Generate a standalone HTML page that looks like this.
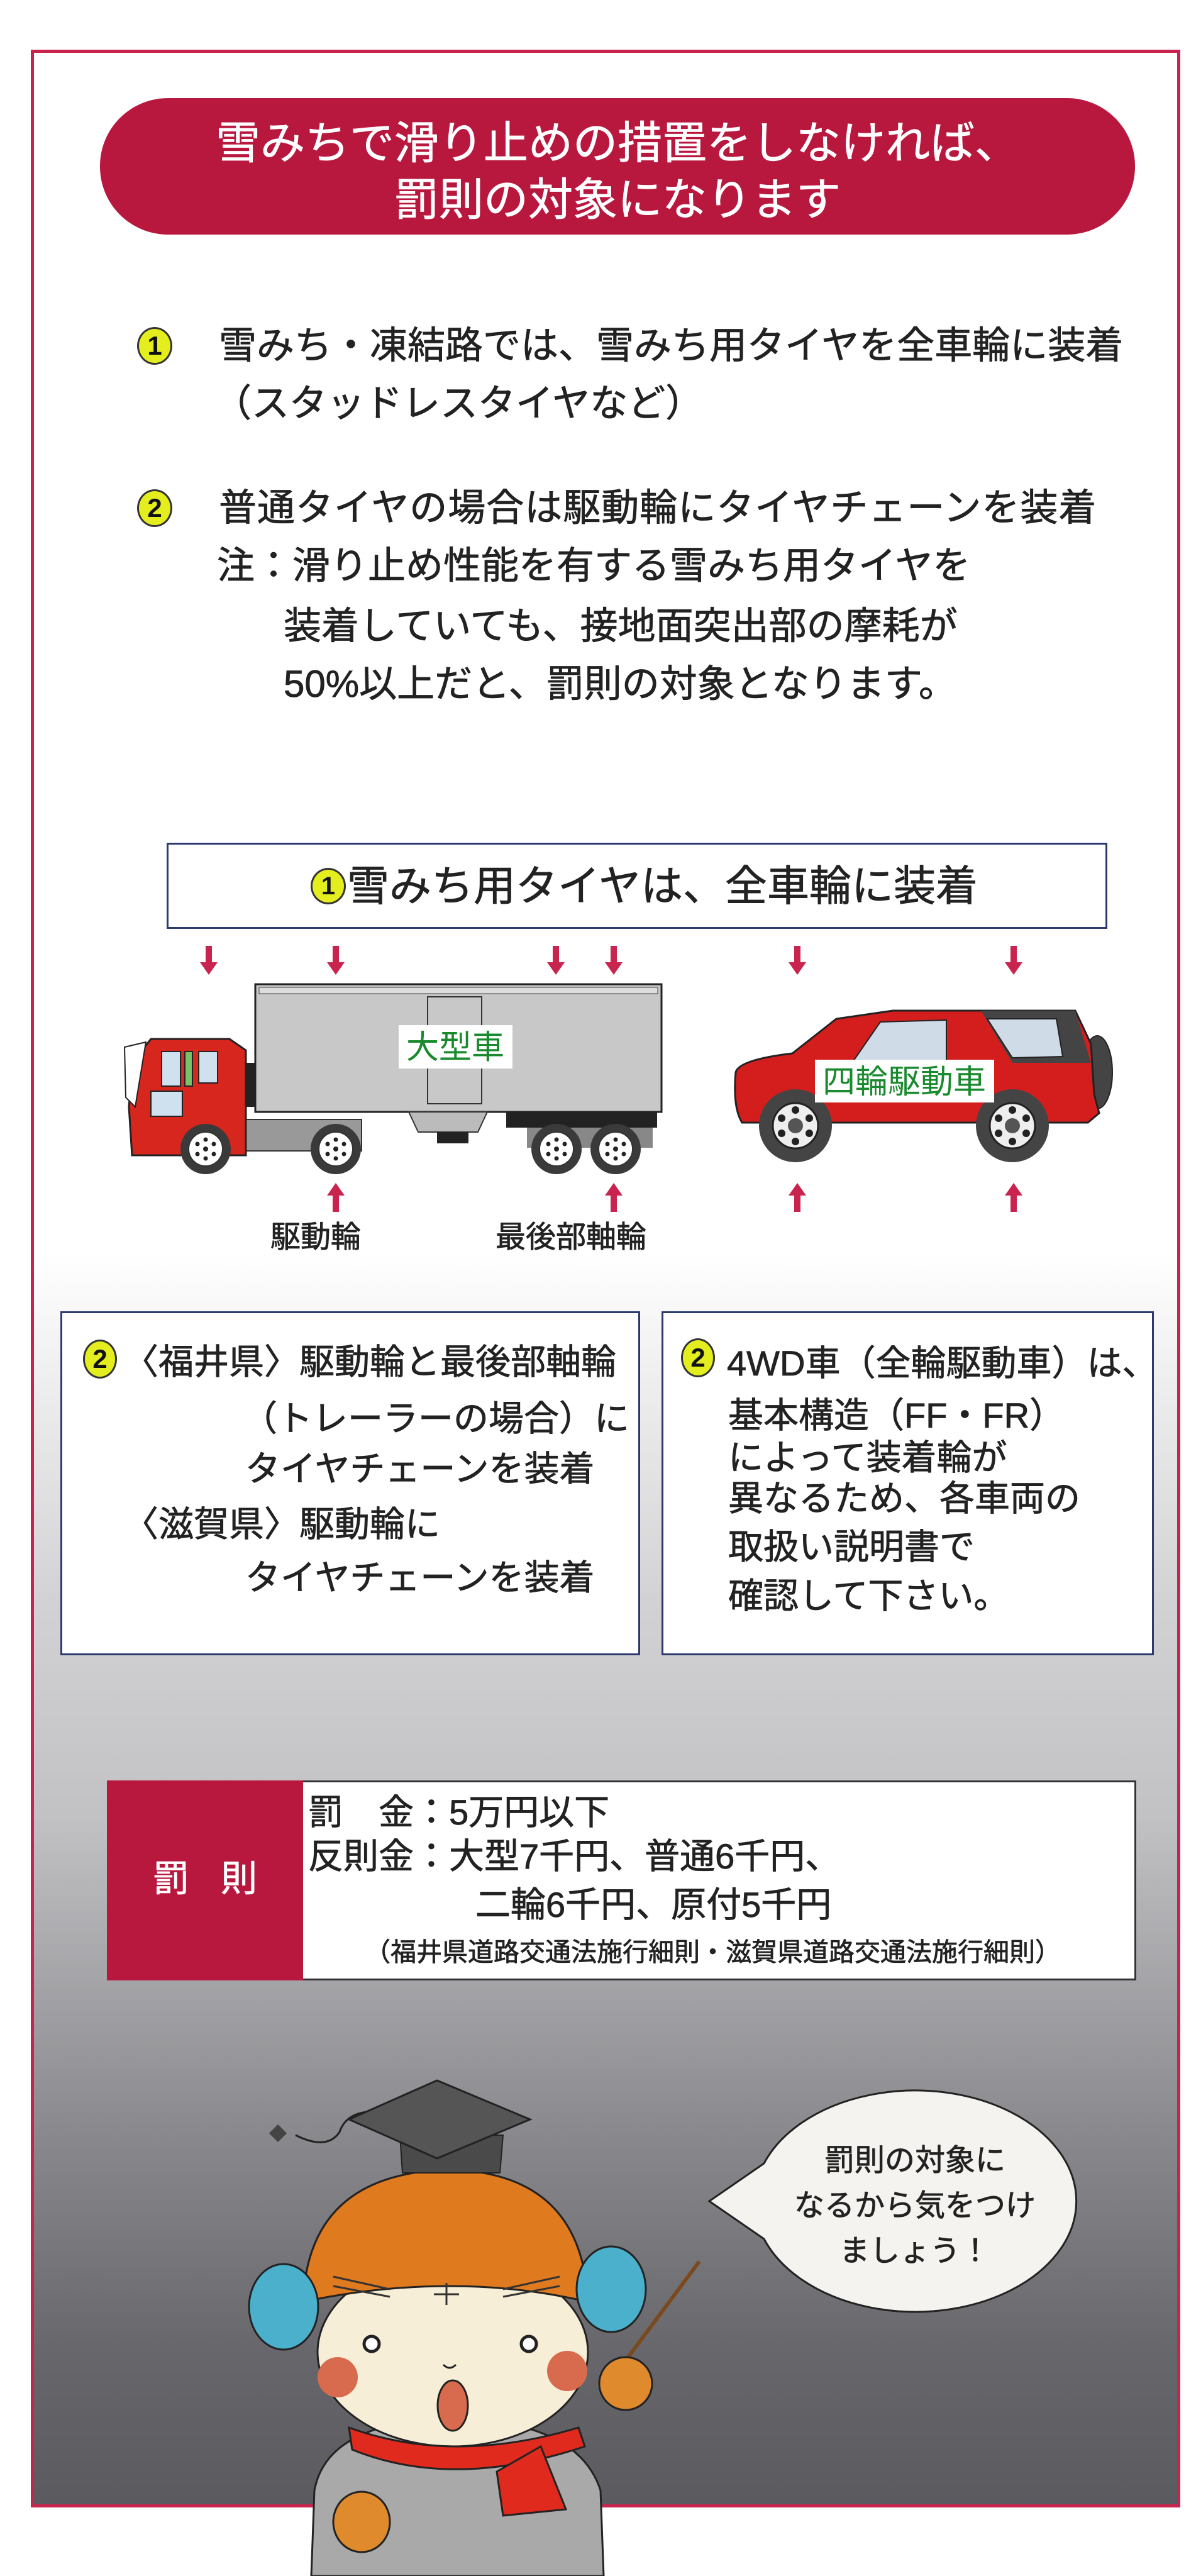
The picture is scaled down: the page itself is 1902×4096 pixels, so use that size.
<!DOCTYPE html>
<html><head><meta charset="utf-8">
<style>
*{margin:0;padding:0;box-sizing:border-box}
body{width:1902px;height:4096px;position:relative;background:#fff;overflow:hidden;font-family:"Liberation Sans","Noto Sans CJK JP",sans-serif;color:#222}
.a{position:absolute;white-space:nowrap}
.t{-webkit-text-stroke:0.8px #222}
.num{position:absolute;border-radius:50%;background:#e4ee1e;border:3px solid #333;font-weight:bold;text-align:center;color:#111;font-family:"Liberation Sans",sans-serif}
.box{position:absolute;background:#fff;border:3px solid #2c3a6e}
</style></head><body>
<div class="a" style="left:52px;top:1990px;width:1822px;height:1994px;background:linear-gradient(#fff 0%,#d2d2d4 28%,#c2c2c5 45%,#8a8a8e 70%,#66666b 88%,#5a5a5f 100%)"></div>
<div class="a" style="left:49px;top:79px;width:1828px;height:3908px;border:5px solid #c8244e"></div>

<div class="a" style="left:159px;top:156px;width:1646px;height:217px;background:#b8173e;border-radius:108px/108px"></div>
<div class="a" style="left:159px;top:184px;width:1646px;text-align:center;color:#fff;font-size:71px;line-height:90px;-webkit-text-stroke:0.8px #fff">雪みちで滑り止めの措置をしなければ、<br>罰則の対象になります</div>

<div class="num" style="left:218px;top:520px;width:56px;height:60px;font-size:42px;line-height:54px">1</div>
<div class="a t" style="left:348px;top:515px;font-size:60px;line-height:70px">雪みち・凍結路では、雪みち用タイヤを全車輪に装着</div>
<div class="a t" style="left:340px;top:607px;font-size:60px;line-height:70px">（スタッドレスタイヤなど）</div>
<div class="num" style="left:218px;top:778px;width:56px;height:60px;font-size:42px;line-height:54px">2</div>
<div class="a t" style="left:348px;top:773px;font-size:60px;line-height:70px;letter-spacing:1px">普通タイヤの場合は駆動輪にタイヤチェーンを装着</div>
<div class="a t" style="left:345px;top:865px;font-size:60px;line-height:70px">注：滑り止め性能を有する雪みち用タイヤを</div>
<div class="a t" style="left:451px;top:961px;font-size:60px;line-height:70px">装着していても、接地面突出部の摩耗が</div>
<div class="a t" style="left:451px;top:1053px;font-size:60px;line-height:70px">50%以上だと、罰則の対象となります。</div>

<div class="box" style="left:265px;top:1340px;width:1496px;height:137px"></div>
<div class="num" style="left:494px;top:1380px;width:56px;height:58px;font-size:40px;line-height:52px">1</div>
<div class="a t" style="left:552px;top:1370px;font-size:67px;line-height:80px">雪みち用タイヤは、全車輪に装着</div>

<svg class="a" style="left:0;top:1490px" width="1902" height="520" viewBox="0 1490 1902 520">
 <defs>
  <g id="ad"><rect x="-5" y="0" width="10" height="28" fill="#c8244e"/><polygon points="-14,26 14,26 0,46" fill="#c8244e"/></g>
  <g id="au"><polygon points="-14,20 14,20 0,0" fill="#c8244e"/><rect x="-5" y="18" width="10" height="28" fill="#c8244e"/></g>
  <g id="tw"><circle r="40" fill="#3a3a3a"/><circle r="27" fill="#fff" stroke="#333" stroke-width="2"/><circle r="4" fill="#222"/><circle cx="0" cy="-15" r="3.5" fill="#222"/><circle cx="13" cy="-8" r="3.5" fill="#222"/><circle cx="13" cy="8" r="3.5" fill="#222"/><circle cx="0" cy="15" r="3.5" fill="#222"/><circle cx="-13" cy="8" r="3.5" fill="#222"/><circle cx="-13" cy="-8" r="3.5" fill="#222"/></g>
  <g id="cw"><circle r="58" fill="#444"/><circle r="36" fill="#eee" stroke="#222" stroke-width="3"/><circle r="12" fill="#555"/><circle cx="0" cy="-25" r="6" fill="#222"/><circle cx="22" cy="-12" r="6" fill="#222"/><circle cx="22" cy="12" r="6" fill="#222"/><circle cx="0" cy="25" r="6" fill="#222"/><circle cx="-22" cy="12" r="6" fill="#222"/><circle cx="-22" cy="-12" r="6" fill="#222"/></g>
 </defs>
 <use href="#ad" x="332" y="1504"/><use href="#ad" x="534" y="1504"/><use href="#ad" x="884" y="1504"/><use href="#ad" x="976" y="1504"/><use href="#ad" x="1268" y="1504"/><use href="#ad" x="1612" y="1504"/>
 <use href="#au" x="534" y="1881"/><use href="#au" x="976" y="1881"/><use href="#au" x="1268" y="1881"/><use href="#au" x="1612" y="1881"/>
 <rect x="406" y="1565" width="646" height="203" fill="#c8c8c8" stroke="#222" stroke-width="3"/>
 <rect x="412" y="1570" width="634" height="10" fill="#ddd" stroke="#444" stroke-width="1"/>
 <rect x="680" y="1585" width="86" height="170" fill="none" stroke="#333" stroke-width="2"/>
 <rect x="805" y="1768" width="240" height="25" fill="#222"/>
 <path d="M650 1768 L665 1800 L760 1800 L775 1768Z" fill="#bbb" stroke="#333" stroke-width="2"/>
 <rect x="695" y="1800" width="50" height="18" fill="#222"/>
 <rect x="838" y="1793" width="200" height="32" fill="#888"/>
 <rect x="385" y="1780" width="190" height="50" fill="#999" stroke="#333" stroke-width="2"/>
 <rect x="385" y="1690" width="22" height="70" fill="#222"/>
 <path d="M230 1665 L240 1652 L365 1652 L391 1670 L391 1837 L210 1837 L205 1760 L212 1680Z" fill="#d7261e" stroke="#222" stroke-width="3"/>
 <path d="M198 1665 L232 1657 L215 1760 L200 1745Z" fill="#fff" stroke="#222" stroke-width="2"/>
 <rect x="257" y="1672" width="30" height="55" fill="#cfe0ee" stroke="#222" stroke-width="2"/>
 <rect x="294" y="1672" width="12" height="55" fill="#7cc06a" stroke="#222" stroke-width="2"/>
 <rect x="316" y="1672" width="30" height="50" fill="#cfe0ee" stroke="#222" stroke-width="2"/>
 <path d="M240 1735 L290 1735 L290 1775 L240 1775Z" fill="#cfe0ee" stroke="#222" stroke-width="2"/>
 <use href="#tw" x="327" y="1827"/><use href="#tw" x="534" y="1827"/><use href="#tw" x="885" y="1827"/><use href="#tw" x="979" y="1827"/>
 <rect x="634" y="1630" width="181" height="69" fill="#fff"/>
 <text x="724" y="1683" text-anchor="middle" font-size="52" fill="#1a8a2e" font-family="Liberation Sans,Noto Sans CJK JP,sans-serif">大型車</text>
 <ellipse cx="1745" cy="1705" rx="24" ry="58" fill="#444" stroke="#222" stroke-width="2"/>
 <path d="M1170 1705 Q1175 1685 1260 1675 L1330 1620 L1420 1607 L1710 1607 L1735 1660 L1740 1740 L1748 1770 L1730 1785 L1180 1785 Q1165 1760 1170 1705Z" fill="#d41e1e" stroke="#222" stroke-width="3"/>
 <path d="M1560 1607 L1710 1607 L1735 1690 L1610 1690Z" fill="#444"/>
 <path d="M1355 1690 L1400 1625 L1505 1622 L1505 1690Z" fill="#cfdce8" stroke="#222" stroke-width="2"/>
 <path d="M1570 1620 L1680 1620 L1690 1680 L1610 1682Z" fill="#cfdce8" stroke="#222" stroke-width="2"/>
 <use href="#cw" x="1265" y="1790"/><use href="#cw" x="1610" y="1790"/>
 <rect x="1296" y="1685" width="285" height="68" fill="#fff"/>
 <text x="1438" y="1738" text-anchor="middle" font-size="52" fill="#1a8a2e" font-family="Liberation Sans,Noto Sans CJK JP,sans-serif">四輪駆動車</text>
</svg>
<div class="a t" style="left:430px;top:1940px;font-size:48px;line-height:56px">駆動輪</div>
<div class="a t" style="left:788px;top:1940px;font-size:48px;line-height:56px">最後部軸輪</div>

<div class="box" style="left:96px;top:2085px;width:922px;height:547px"></div>
<div class="box" style="left:1052px;top:2085px;width:783px;height:547px"></div>
<div class="num" style="left:132px;top:2130px;width:54px;height:62px;font-size:42px;line-height:56px">2</div>
<div class="a t" style="left:196px;top:2134px;font-size:56px;line-height:64px">〈福井県〉駆動輪と最後部軸輪</div>
<div class="a t" style="left:385px;top:2224px;font-size:56px;line-height:64px">（トレーラーの場合）に</div>
<div class="a t" style="left:390px;top:2304px;font-size:56px;line-height:64px">タイヤチェーンを装着</div>
<div class="a t" style="left:196px;top:2392px;font-size:56px;line-height:64px">〈滋賀県〉駆動輪に</div>
<div class="a t" style="left:390px;top:2477px;font-size:56px;line-height:64px">タイヤチェーンを装着</div>
<div class="num" style="left:1083px;top:2128px;width:54px;height:62px;font-size:42px;line-height:56px">2</div>
<div class="a t" style="left:1156px;top:2136px;font-size:56px;line-height:64px">4WD車（全輪駆動車）は、</div>
<div class="a t" style="left:1158px;top:2219px;font-size:56px;line-height:64px">基本構造（FF・FR）</div>
<div class="a t" style="left:1158px;top:2286px;font-size:56px;line-height:64px">によって装着輪が</div>
<div class="a t" style="left:1158px;top:2351px;font-size:56px;line-height:64px">異なるため、各車両の</div>
<div class="a t" style="left:1158px;top:2428px;font-size:56px;line-height:64px">取扱い説明書で</div>
<div class="a t" style="left:1158px;top:2506px;font-size:56px;line-height:64px">確認して下さい。</div>

<div class="a" style="left:170px;top:2831px;width:1637px;height:318px;background:#fff;border:3px solid #333"></div>
<div class="a" style="left:170px;top:2831px;width:312px;height:318px;background:#b8173e"></div>
<div class="a" style="left:170px;top:2955px;width:312px;text-align:center;color:#fff;font-size:58px;line-height:66px;letter-spacing:50px;padding-left:50px;-webkit-text-stroke:0.8px #fff">罰則</div>
<div class="a t" style="left:490px;top:2852px;font-size:56px;line-height:60px">罰　金：5万円以下</div>
<div class="a t" style="left:490px;top:2922px;font-size:56px;line-height:60px">反則金：大型7千円、普通6千円、</div>
<div class="a t" style="left:756px;top:2999px;font-size:56px;line-height:60px">二輪6千円、原付5千円</div>
<div class="a t" style="left:580px;top:3080px;font-size:41px;line-height:48px">（福井県道路交通法施行細則・滋賀県道路交通法施行細則）</div>

<svg class="a" style="left:1100px;top:3310px" width="640" height="400" viewBox="1100 3310 640 400">
 <path d="M1215 3440 A256 176 0 1 1 1215 3560 L1128 3500Z" fill="#f4f3ef" stroke="#222" stroke-width="3"/>
</svg>
<div class="a t" style="left:1200px;top:3400px;width:510px;text-align:center;font-size:48px;line-height:72px;color:#222">罰則の対象に<br>なるから気をつけ<br>ましょう！</div>

<svg class="a" style="left:380px;top:3290px" width="780" height="806" viewBox="380 3290 780 806">
 <path d="M500 3960 Q520 3850 720 3845 Q920 3850 955 3960 L960 4096 L495 4096Z" fill="#a9a9a9" stroke="#222" stroke-width="3"/>
 <path d="M695 3380 Q560 3330 540 3390 Q520 3420 470 3395" fill="none" stroke="#222" stroke-width="3"/>
 <rect x="432" y="3382" width="20" height="20" transform="rotate(45 442 3392)" fill="#444"/>
 <ellipse cx="720" cy="3740" rx="215" ry="150" fill="#f6eed6" stroke="#222" stroke-width="3"/>
 <path d="M482 3660 Q490 3455 715 3450 Q925 3455 935 3660 Q720 3610 482 3660Z" fill="#e07a1e" stroke="#222" stroke-width="3"/>
 <path d="M530 3620 L620 3640 M530 3635 L620 3652 M800 3640 L890 3620 M800 3652 L890 3635 M710 3630 L710 3665 M690 3648 L730 3648" stroke="#333" stroke-width="3" fill="none"/>
 <path d="M636 3395 L800 3395 L795 3455 L640 3455Z" fill="#4a4a4a" stroke="#222" stroke-width="2"/>
 <polygon points="695,3308 843,3370 695,3432 555,3370" fill="#555" stroke="#222" stroke-width="3"/>
 <ellipse cx="451" cy="3668" rx="55" ry="68" fill="#4ab0cc" stroke="#222" stroke-width="3"/>
 <ellipse cx="972" cy="3640" rx="55" ry="68" fill="#4ab0cc" stroke="#222" stroke-width="3"/>
 <circle cx="537" cy="3780" r="32" fill="#d86a4e"/>
 <circle cx="902" cy="3770" r="32" fill="#d86a4e"/>
 <circle cx="591" cy="3727" r="12" fill="#fff" stroke="#222" stroke-width="5"/>
 <circle cx="841" cy="3727" r="12" fill="#fff" stroke="#222" stroke-width="5"/>
 <ellipse cx="720" cy="3825" rx="24" ry="40" fill="#d86a4e" stroke="#222" stroke-width="3"/>
 <path d="M705 3760 Q715 3770 725 3760" fill="none" stroke="#222" stroke-width="3"/>
 <path d="M555 3860 Q720 3920 920 3860 L930 3890 Q720 3960 560 3895Z" fill="#e02a1e" stroke="#222" stroke-width="3"/>
 <path d="M860 3890 L900 3990 L800 4000 L790 3930Z" fill="#e02a1e" stroke="#222" stroke-width="3"/>
 <line x1="990" y1="3760" x2="1112" y2="3596" stroke="#7a4a1e" stroke-width="6"/>
 <ellipse cx="995" cy="3790" rx="42" ry="42" fill="#e08a2e" stroke="#222" stroke-width="3"/>
 <ellipse cx="575" cy="4010" rx="45" ry="48" fill="#e08a2e" stroke="#222" stroke-width="3"/>
</svg>
</body></html>
